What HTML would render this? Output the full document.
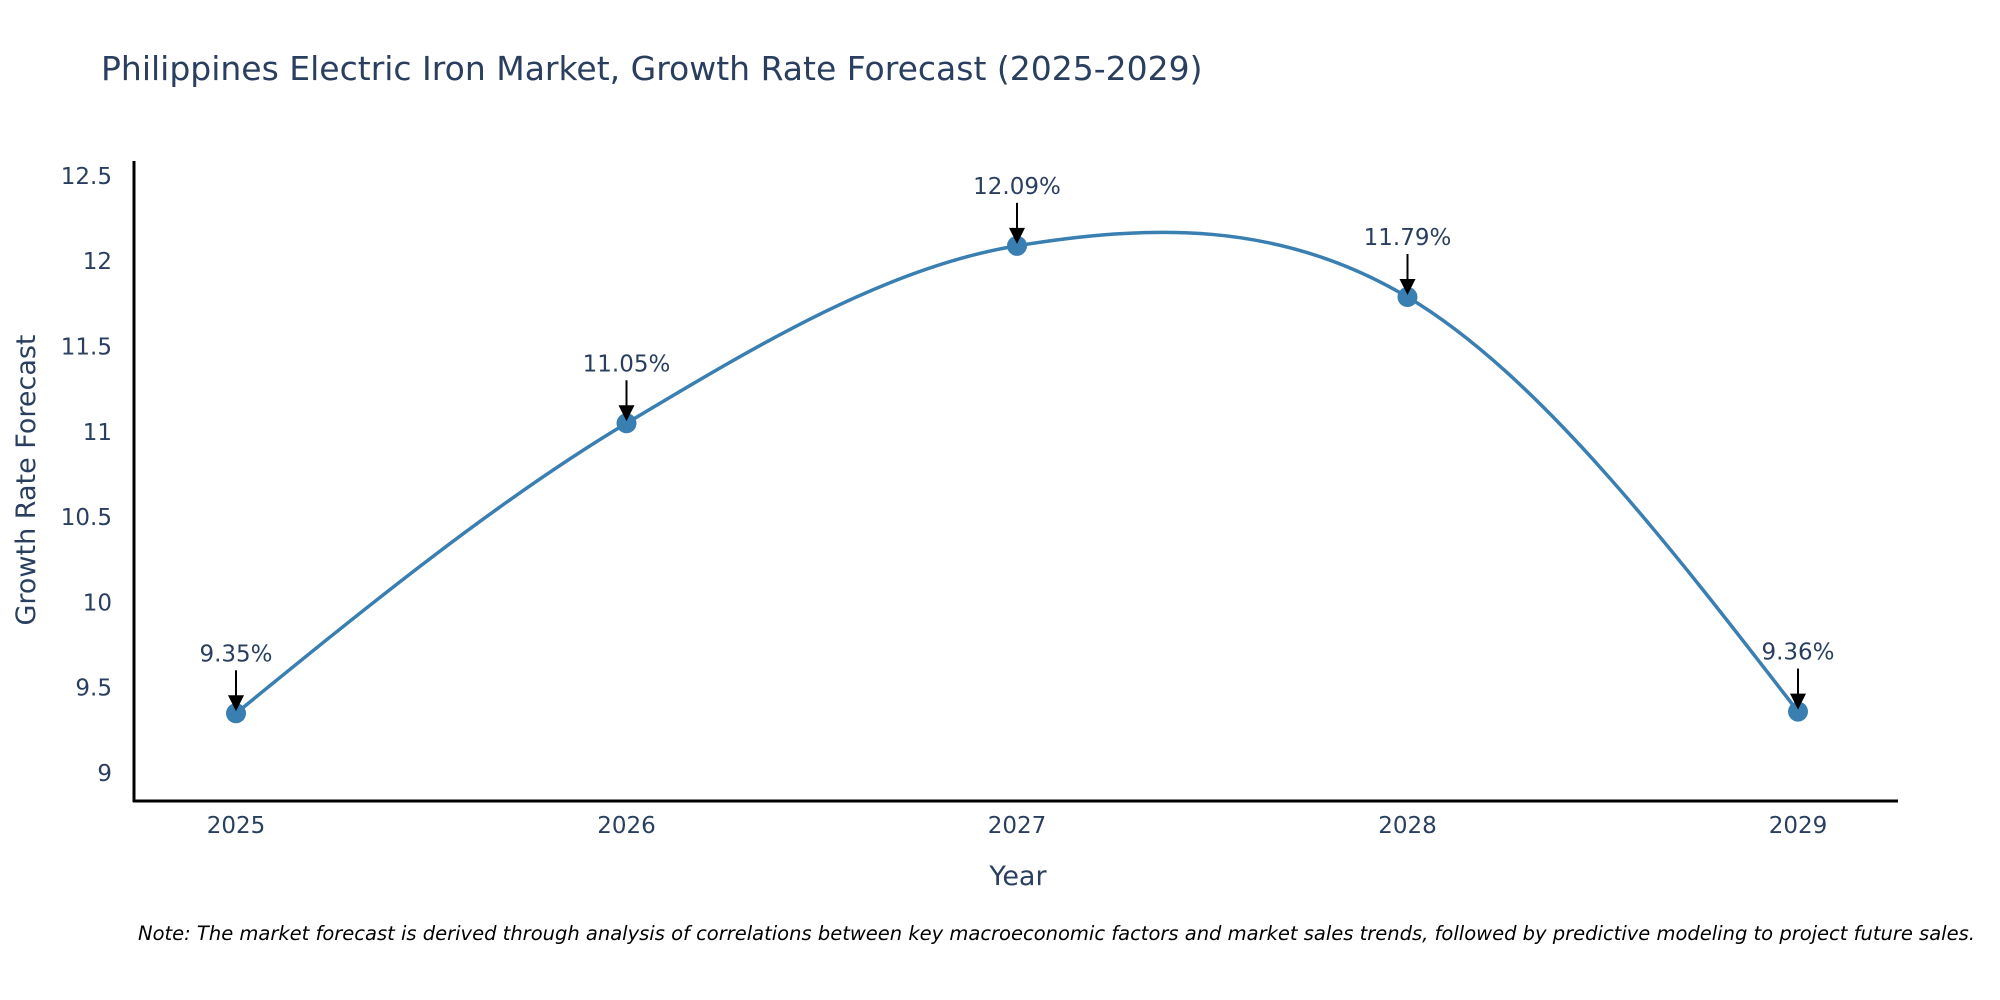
<!DOCTYPE html>
<html><head><meta charset="utf-8"><style>
body{margin:0;background:#fff;}
svg{display:block;font-family:"DejaVu Sans","Liberation Sans",sans-serif;}
</style></head><body>
<svg id="chart" width="2000" height="1000" viewBox="0 0 2000 1000">
<text x="101" y="80" font-size="33" fill="#2a3f5f">Philippines Electric Iron Market, Growth Rate Forecast (2025-2029)</text>
<g id="yticks"></g>
<g id="xticks"></g>
<path id="line" fill="none" stroke="#3a7fb2" stroke-width="3.5"/>
<g id="points"></g>
<g id="annots"></g>
<line x1="134" y1="161" x2="134" y2="802" stroke="#000" stroke-width="3"/>
<line x1="133" y1="801" x2="1898" y2="801" stroke="#000" stroke-width="3"/>
<text transform="translate(35,480) rotate(-90)" text-anchor="middle" font-size="27" fill="#2a3f5f">Growth Rate Forecast</text>
<text x="1018" y="885" text-anchor="middle" font-size="27" fill="#2a3f5f">Year</text>
<text x="138" y="940" font-size="19.5" font-style="italic" fill="#000">Note: The market forecast is derived through analysis of correlations between key macroeconomic factors and market sales trends, followed by predictive modeling to project future sales.</text>
</svg>
<script>
const years = [2025, 2026, 2027, 2028, 2029];
const rates = [9.35, 11.05, 12.09, 11.79, 9.36];
const labels = ["9.35%", "11.05%", "12.09%", "11.79%", "9.36%"];
const yTicks = [9, 9.5, 10, 10.5, 11, 11.5, 12, 12.5];
const yTickLabels = ["9", "9.5", "10", "10.5", "11", "11.5", "12", "12.5"];

const NS = "http://www.w3.org/2000/svg";
const X = v => 236 + (v - 2025) * 390.5;
const Y = v => 773 - (v - 9) * 170.6;
function mk(tag, attrs, parent){const e=document.createElementNS(NS,tag);for(const k in attrs)e.setAttribute(k,attrs[k]);parent.appendChild(e);return e;}

const yt = document.getElementById('yticks');
yTicks.forEach((t,i)=>{
  const e = mk('text',{x:112,y:Y(t)+8,'text-anchor':'end','font-size':23,fill:'#2a3f5f'},yt);
  
  
  e.textContent = yTickLabels[i];
});
const xt = document.getElementById('xticks');
years.forEach(yr=>{
  const e = mk('text',{x:X(yr),y:833,'text-anchor':'middle','font-size':23,fill:'#2a3f5f'},xt);
  
  
  e.textContent = String(yr);
});

const pts = years.map((yr,i)=>[X(yr),Y(rates[i])]);
let d = `M${pts[0][0]},${pts[0][1]}`;
const tan = pts.map((p,i)=>{
  const a = pts[Math.max(0,i-1)], b = pts[Math.min(pts.length-1,i+1)];
  const f = (i===0||i===pts.length-1)?1:0.5;
  return [(b[0]-a[0])*f,(b[1]-a[1])*f];
});
for(let i=0;i<pts.length-1;i++){
  const p0=pts[i],p1=pts[i+1],t0=tan[i],t1=tan[i+1];
  let c1=[p0[0]+t0[0]/3,p0[1]+t0[1]/3], c2=[p1[0]-t1[0]/3,p1[1]-t1[1]/3];
  if(i===0) c1=[p0[0]+(c2[0]-p0[0])/2,p0[1]+(c2[1]-p0[1])/2];
  if(i===pts.length-2) c2=[p1[0]+(c1[0]-p1[0])/2,p1[1]+(c1[1]-p1[1])/2];
  d += ` C${c1[0]},${c1[1]} ${c2[0]},${c2[1]} ${p1[0]},${p1[1]}`;
}
document.getElementById('line').setAttribute('d', d);

const pg = document.getElementById('points'), ag = document.getElementById('annots');
pts.forEach((p,i)=>{
  const c = mk('circle',{cx:p[0],cy:p[1],r:10,fill:'#3a7fb2'},pg);
  
  
  const l = mk('line',{x1:p[0],y1:p[1]-43,x2:p[0],y2:p[1]-14,stroke:'#000','stroke-width':2},ag);
  
  
  const h = mk('polygon',{points:`${p[0]-8},${p[1]-18} ${p[0]+8},${p[1]-18} ${p[0]},${p[1]-2}`,fill:'#000'},ag);
  
  
  const t = mk('text',{x:p[0],y:p[1]-52,'text-anchor':'middle','font-size':23,fill:'#2a3f5f'},ag);
  
  
  t.textContent = labels[i];
});
</script>
</body></html>
